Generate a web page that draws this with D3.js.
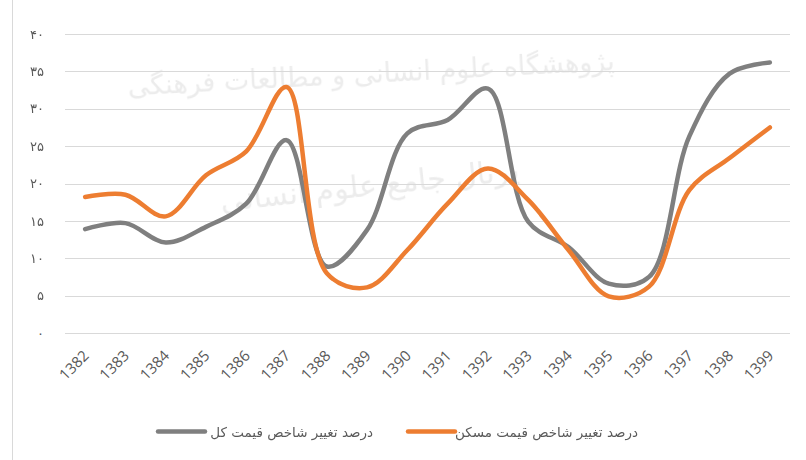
<!DOCTYPE html>
<html><head><meta charset="utf-8">
<script src="https://cdn.jsdelivr.net/npm/d3@7"></script>
<style>body{margin:0;background:#fff}svg{display:block}</style>
</head><body>
<svg id="c" width="806" height="460"></svg>
<script>
const categories = ["1382","1383","1384","1385","1386","1387","1388","1389","1390","1391","1392","1393","1394","1395","1396","1397","1398","1399"];
const totalIndex = [13.9,14.7,12.1,14.2,17.3,25.8,8.9,13.8,26.7,28.5,32.7,14.9,11.5,6.6,7.5,26.3,34.7,36.2];
const housingIndex = [18.2,18.5,15.6,21.1,24.3,32.9,8.0,6.1,11.1,17.3,22.0,17.8,11.1,4.9,6.2,19.1,23.4,27.5];
const yTicks = [0,5,10,15,20,25,30,35,40];
const seriesNames = ["درصد تغییر شاخص قیمت کل","درصد تغییر شاخص قیمت مسکن"];
const seriesColors = ["#7f7f7f","#ed7d31"];

const fa = n => String(n).replace(/\d/g, d => "۰۱۲۳۴۵۶۷۸۹"[d]);
const svg = d3.select("#c");
const x = d3.scaleBand().domain(categories).range([65, 790]);
const y = d3.scaleLinear().domain([0, 40]).range([333, 34]);

// frame line on left
svg.append("line").attr("x1",12.5).attr("x2",12.5).attr("y1",0).attr("y2",460).attr("stroke","#d9d9d9").attr("stroke-width",1);

// faint watermark
const wm = svg.append("g").attr("fill","#cfcfcf").attr("opacity",0.4)
  .style("font-family","'DejaVu Sans', sans-serif");
wm.append("text").attr("x",615).attr("y",70).attr("text-anchor","end").attr("font-size",27)
  .attr("transform","rotate(-3,615,70)").text("پژوهشگاه علوم انسانی و مطالعات فرهنگی");
wm.append("text").attr("x",520).attr("y",180).attr("text-anchor","end").attr("font-size",30)
  .attr("transform","rotate(-6,520,180)").text("پرتال جامع علوم انسانی");

// gridlines
svg.append("g").selectAll("line").data(yTicks).join("line")
  .attr("x1",65).attr("x2",790).attr("y1",d=>Math.round(y(d))+0.5).attr("y2",d=>Math.round(y(d))+0.5)
  .attr("stroke","#d9d9d9").attr("stroke-width",1);

// y axis labels
const yAxis = d3.axisLeft(y).tickValues(yTicks).tickSize(0).tickPadding(0).tickFormat(fa);
const ya = svg.append("g").attr("transform","translate(44,0)").call(yAxis);
ya.select(".domain").remove();
ya.selectAll("text").attr("fill","#595959").attr("font-size",13)
  .style("font-family","'DejaVu Sans', sans-serif");

// x axis labels
const xAxis = d3.axisBottom(x).tickSize(0).tickPadding(0);
const xa = svg.append("g").attr("transform","translate(0,353)").call(xAxis);
xa.select(".domain").remove();
xa.selectAll("text").attr("fill","#595959").attr("font-size",15)
  .style("font-family","'Open Sans', sans-serif")
  .attr("text-anchor","end").attr("dy","0.35em").attr("dx",0)
  .attr("transform","translate(1,0) rotate(-45)");

// lines
const line = d3.line().x((d,i)=>x(categories[i])+x.bandwidth()/2).y(d=>y(d)).curve(d3.curveCatmullRom.alpha(0.5));
[totalIndex, housingIndex].forEach((s,k)=>{
  svg.append("path").datum(s).attr("d",line).attr("fill","none")
    .attr("stroke",seriesColors[k]).attr("stroke-width",4.5).attr("stroke-linecap","round").attr("stroke-linejoin","round");
});

// legend
const leg = [{x1:158,x2:205,tx:373},{x1:408,x2:455,tx:638}];
leg.forEach((l,k)=>{
  svg.append("line").attr("x1",l.x1).attr("x2",l.x2).attr("y1",431.5).attr("y2",431.5)
    .attr("stroke",seriesColors[k]).attr("stroke-width",4.5).attr("stroke-linecap","round");
  svg.append("text").attr("x",l.tx).attr("y",432).attr("dy","0.35em").attr("text-anchor","end")
    .attr("fill","#595959").attr("font-size",13.5)
    .style("font-family","'DejaVu Sans', sans-serif").text(seriesNames[k]);
});
</script>
</body></html>
